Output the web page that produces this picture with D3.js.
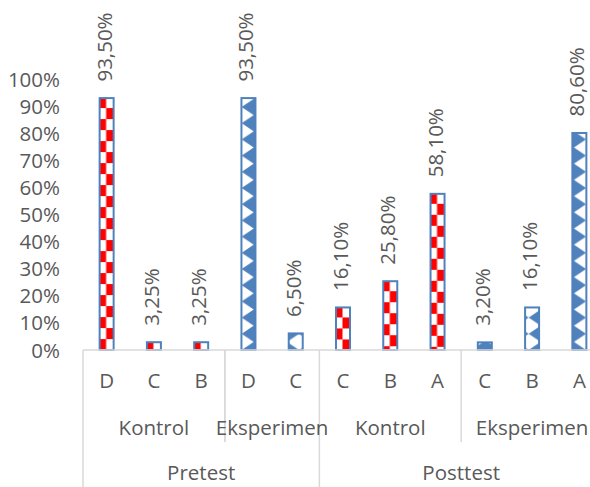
<!DOCTYPE html>
<html>
<head>
<meta charset="utf-8">
<script src="https://cdn.jsdelivr.net/npm/d3@7"></script>
<style>
  html, body { margin: 0; padding: 0; background: #ffffff; }
  svg { display: block; }
  text { font-family: "Open Sans", "Liberation Sans", sans-serif; fill: #595959; }
</style>
</head>
<body>
<script>
// Score distribution per test phase and group (percent of students per grade)
const grades  = ["D", "C", "B", "D", "C", "C", "B", "A", "C", "B", "A"];
const groups  = ["Kontrol", "Kontrol", "Kontrol", "Eksperimen", "Eksperimen",
                 "Kontrol", "Kontrol", "Kontrol", "Eksperimen", "Eksperimen", "Eksperimen"];
const phases  = ["Pretest", "Pretest", "Pretest", "Pretest", "Pretest",
                 "Posttest", "Posttest", "Posttest", "Posttest", "Posttest", "Posttest"];
const values  = [93.5, 3.25, 3.25, 93.5, 6.5, 16.1, 25.8, 58.1, 3.2, 16.1, 80.6];
const yTicks  = [0, 10, 20, 30, 40, 50, 60, 70, 80, 90, 100];

const W = 590, H = 487;
const baseY = 350, topY = 79.5;
const fontSize = 20.5;
const blue = "#4f81bd", red = "#ff0000", grid = "#d9d9d9";

const svg = d3.select("body").append("svg").attr("width", W).attr("height", H);

const x = d3.scaleBand().domain(d3.range(values.length)).range([83, 603]);
const y = d3.scaleLinear().domain([0, 100]).range([baseY, topY]);
const barW = Math.round(x.bandwidth() * 0.338);
const cx = i => x(i) + x.bandwidth() / 2;
const fmt = v => v.toFixed(2).replace(".", ",") + "%";

const defs = svg.append("defs");

// zig-zag fill shared by the Eksperimen bars: blue ground with a lattice of white diamonds
const tW = 28.7, tH = 16.2, notch = 0.42 * tW;
const whiteX = 256 - tW / 2, whiteY = baseY - tH / 2;
const zig = defs.append("pattern")
  .attr("id", "zig")
  .attr("patternUnits", "userSpaceOnUse")
  .attr("x", whiteX - tW / 2).attr("y", whiteY - tH / 2)
  .attr("width", tW).attr("height", tH);
zig.append("rect").attr("width", tW).attr("height", tH).attr("fill", blue);
zig.append("path")
  .attr("d", `M${tW / 2},0L${tW / 2 + notch},${tH / 2}L${tW / 2},${tH}L${tW / 2 - notch},${tH / 2}Z`)
  .attr("fill", "#ffffff");

// checkerboard fill for the Kontrol bars, anchored at each bar's top-left corner
const cW = 7.5, cH = 11;
values.forEach((v, i) => {
  if (groups[i] !== "Kontrol") return;
  const p = defs.append("pattern")
    .attr("id", "chk" + i)
    .attr("patternUnits", "userSpaceOnUse")
    .attr("x", cx(i) - barW / 2).attr("y", y(v))
    .attr("width", cW * 2).attr("height", cH * 2);
  p.append("rect").attr("width", cW * 2).attr("height", cH * 2).attr("fill", "#ffffff");
  p.append("rect").attr("width", cW).attr("height", cH).attr("fill", red);
  p.append("rect").attr("x", cW).attr("y", cH).attr("width", cW).attr("height", cH).attr("fill", red);
});

// y axis labels
svg.append("g").selectAll("text")
  .data(yTicks)
  .join("text")
  .attr("x", 60)
  .attr("y", d => y(d) + 7.5)
  .attr("text-anchor", "end")
  .style("font-size", fontSize + "px")
  .text(d => d + "%");

// bars
svg.append("g").selectAll("rect")
  .data(values)
  .join("rect")
  .attr("x", (d, i) => cx(i) - barW / 2 + 1)
  .attr("y", d => y(d) + 1)
  .attr("width", barW - 2)
  .attr("height", d => baseY - y(d) - 1)
  .attr("fill", (d, i) => groups[i] === "Kontrol" ? `url(#chk${i})` : "url(#zig)")
  .attr("stroke", blue)
  .attr("stroke-width", 2);

// rotated value labels
svg.append("g").selectAll("text")
  .data(values)
  .join("text")
  .attr("transform", (d, i) => `translate(${cx(i) + 5},${y(d) - 15.5}) rotate(-90)`)
  .attr("text-anchor", "start")
  .style("font-size", fontSize + "px")
  .text(d => fmt(d));

// category axis line
const axis = svg.append("g");
axis.append("line")
  .attr("x1", x(0)).attr("x2", x.range()[1])
  .attr("y1", baseY).attr("y2", baseY)
  .attr("stroke", grid).attr("stroke-width", 1.5);

// grade labels
axis.selectAll("text.grade")
  .data(grades)
  .join("text")
  .attr("class", "grade")
  .attr("x", (d, i) => cx(i))
  .attr("y", 388)
  .attr("text-anchor", "middle")
  .style("font-size", fontSize + "px")
  .text(d => d);

// runs of consecutive categories sharing a key
function runs(keyFn) {
  const out = [];
  values.forEach((v, i) => {
    const k = keyFn(i);
    const last = out[out.length - 1];
    if (last && last.key === k) last.end = i;
    else out.push({ key: k, start: i, end: i });
  });
  return out.map(r => ({
    ...r,
    x0: x(r.start),
    x1: x(r.end) + x.bandwidth()
  }));
}

const groupRuns = runs(i => phases[i] + "|" + groups[i]);
const phaseRuns = runs(i => phases[i]);
const phaseEdges = new Set(phaseRuns.flatMap(r => [r.x0, r.x1]));

// separators between groups (short) and phases (full height)
const edges = Array.from(new Set(groupRuns.flatMap(r => [r.x0, r.x1])));
axis.selectAll("line.sep")
  .data(edges)
  .join("line")
  .attr("class", "sep")
  .attr("x1", d => d).attr("x2", d => d)
  .attr("y1", baseY)
  .attr("y2", d => phaseEdges.has(d) ? H : 442)
  .attr("stroke", grid).attr("stroke-width", 1.5);

axis.selectAll("text.group")
  .data(groupRuns)
  .join("text")
  .attr("class", "group")
  .attr("x", d => (d.x0 + d.x1) / 2)
  .attr("y", 434.5)
  .attr("text-anchor", "middle")
  .style("font-size", fontSize + "px")
  .text(d => d.key.split("|")[1]);

axis.selectAll("text.phase")
  .data(phaseRuns)
  .join("text")
  .attr("class", "phase")
  .attr("x", d => (d.x0 + d.x1) / 2)
  .attr("y", 480)
  .attr("text-anchor", "middle")
  .style("font-size", fontSize + "px")
  .text(d => d.key);
</script>
</body>
</html>
